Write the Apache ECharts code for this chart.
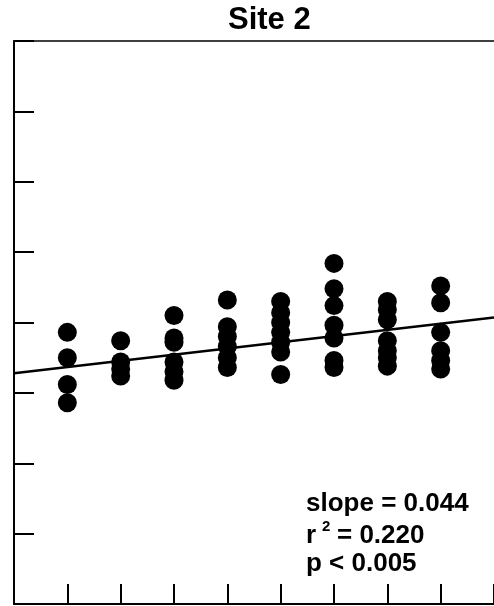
<!DOCTYPE html>
<html><head><meta charset="utf-8">
<script src="https://cdn.jsdelivr.net/npm/echarts@6/dist/echarts.min.js"></script>
<style>html,body{margin:0;padding:0;background:#fff}#c{width:494px;height:606px}</style>
</head><body><div id="c"></div>
<script>
// x positions of the eight sampling groups
const xPositions = [1, 2, 3, 4, 5, 6, 7, 8];
// y values read for each group
const group1 = [1.93, 1.75, 1.56, 1.43];
const group2 = [1.87, 1.72, 1.67, 1.62];
const group3 = [2.05, 1.89, 1.86, 1.72, 1.65, 1.59];
const group4 = [2.16, 1.97, 1.90, 1.83, 1.75, 1.68];
const group5 = [2.15, 2.07, 2.00, 1.93, 1.86, 1.79, 1.63];
const group6 = [2.42, 2.24, 2.12, 1.98, 1.89, 1.73, 1.68];
const group7 = [2.15, 2.09, 2.02, 1.87, 1.80, 1.75, 1.69];
const group8 = [2.26, 2.14, 1.93, 1.80, 1.73, 1.67];
const groups = [group1, group2, group3, group4, group5, group6, group7, group8];
// regression fit
const fitSlope = 0.044;
const fitIntercept = 1.64;
const fitX = [0, 9];
// text
const titleText = 'Site 2';
const statSlope = '0.044';
const statR2 = '0.220';
const statP = '0.005';

const points = [];
groups.forEach((g, i) => g.forEach(v => points.push([xPositions[i], v])));
const fitLine = fitX.map(x => [x, fitIntercept + fitSlope * x]);

const F = '"Liberation Sans", Arial, sans-serif';
const chart = echarts.init(document.getElementById('c'), null, {renderer: 'canvas'});
const tickStyle = {show: true, inside: true, length: 20, lineStyle: {color: '#000', width: 2}};
chart.setOption({
  animation: false,
  backgroundColor: '#fff',
  grid: {left: 14, right: -3, top: 41, bottom: 2, containLabel: false},
  xAxis: [{
    type: 'value', min: 0, max: 9, interval: 1, position: 'bottom',
    axisLine: {show: true, lineStyle: {color: '#000', width: 2}},
    axisTick: tickStyle,
    axisLabel: {show: false}, splitLine: {show: false}
  }, {
    type: 'value', min: 0, max: 9, interval: 1, position: 'top',
    axisLine: {show: true, lineStyle: {color: '#000', width: 1.5}}, axisTick: {show: false},
    axisLabel: {show: false}, splitLine: {show: false}
  }],
  yAxis: {
    type: 'value', min: 0, max: 4, interval: 0.5,
    axisLine: {show: true, lineStyle: {color: '#000', width: 2}},
    axisTick: tickStyle,
    axisLabel: {show: false}, splitLine: {show: false}
  },
  series: [{
    type: 'line', data: fitLine, symbol: 'none', silent: true,
    lineStyle: {color: '#000', width: 2.5}, z: 3
  }, {
    type: 'scatter', data: points, symbol: 'circle', symbolSize: 19,
    itemStyle: {color: '#000', opacity: 1}, z: 4
  }],
  graphic: [{
    type: 'text', left: 228, top: 5,
    style: {text: titleText, font: 'bold 31px ' + F, fill: '#000'}
  }, {
    type: 'text', left: 306, top: 491,
    style: {text: 'slope = ' + statSlope, font: 'bold 26px ' + F, fill: '#000'}
  }, {
    type: 'text', left: 306, top: 523,
    style: {text: 'r', font: 'bold 26px ' + F, fill: '#000'}
  }, {
    type: 'text', left: 322, top: 519,
    style: {text: '2', font: 'bold 15px ' + F, fill: '#000'}
  }, {
    type: 'text', left: 337, top: 523,
    style: {text: '= ' + statR2, font: 'bold 26px ' + F, fill: '#000'}
  }, {
    type: 'text', left: 306, top: 551,
    style: {text: 'p < ' + statP, font: 'bold 26px ' + F, fill: '#000'}
  }]
});
</script></body></html>
